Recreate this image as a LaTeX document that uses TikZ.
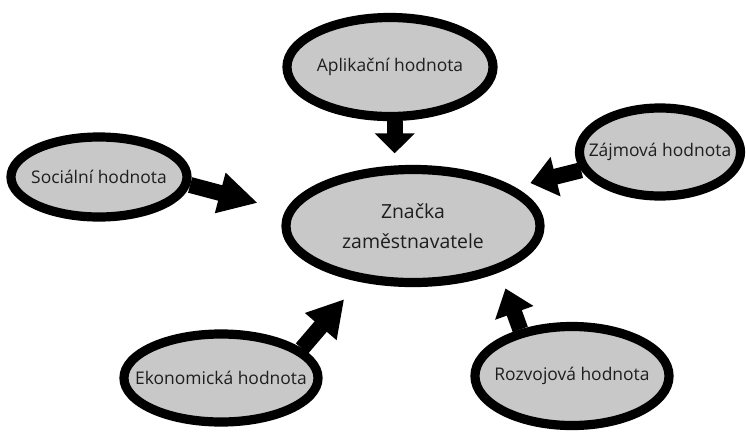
\documentclass[tikz,border=0pt]{standalone}
\usepackage{fontspec}
\setmainfont{Open Sans}
\usetikzlibrary{shapes.geometric,arrows.meta,backgrounds}
\definecolor{valfill}{RGB}{200,200,200}
\definecolor{valtext}{RGB}{30,30,30}

\begin{document}
\begin{tikzpicture}[x=0.025cm,y=-0.025cm,
  font=\fontsize{12.4}{15}\selectfont,
  val/.style={ellipse,draw=black,fill=valfill,line width=0.23cm,text=valtext,inner xsep=-14pt,inner ysep=0pt,align=center},
  core/.style={val,font=\fontsize{13.8}{21}\selectfont},
  flow/.style={line width=0.4cm,-{Triangle[width=0.975cm,length=#1]}},
  flow/.default=0.65cm]
\useasboundingbox (0,0) rectangle (746,436);

% ================= CENTRE =================
\node[core,minimum width=6.35cm,minimum height=2.825cm] (brand) at (413,226) {Značka\\zaměstnavatele};

% ================= VALUES =================
\node[val,minimum width=5.15cm,minimum height=2.475cm] (apl) at (390,67) {Aplikační hodnota};
\node[val,minimum width=4.4cm,minimum height=2cm] (soc) at (99,177) {Sociální hodnota};
\node[val,minimum width=4.025cm,minimum height=2.2cm] (zaj) at (660,152) {Zájmová hodnota};
\node[val,minimum width=4.85cm,minimum height=2.2cm] (eko) at (221,378) {Ekonomická hodnota};
\node[val,minimum width=4.85cm,minimum height=2.475cm] (roz) at (572,376) {Rozvojová hodnota};

% ================= ARROWS =================
\begin{scope}[on background layer]
  \draw[flow=0.5cm,shorten >=0.29cm] (apl.-85) -- (apl.-85 |- brand.north);
  \draw[flow=0.97cm,shorten >=0.725cm] (soc.-5) -- (brand.173);
  \draw[flow=0.65cm,shorten >=0.41cm] (zaj.193) -- (brand.21);
  \draw[flow=0.9cm,shorten >=0.575cm] (eko.20) -- (brand.226);
  \draw[flow=0.65cm,shorten >=0.435cm] (roz.138) -- (brand.-28);
\end{scope}
\end{tikzpicture}
\end{document}
